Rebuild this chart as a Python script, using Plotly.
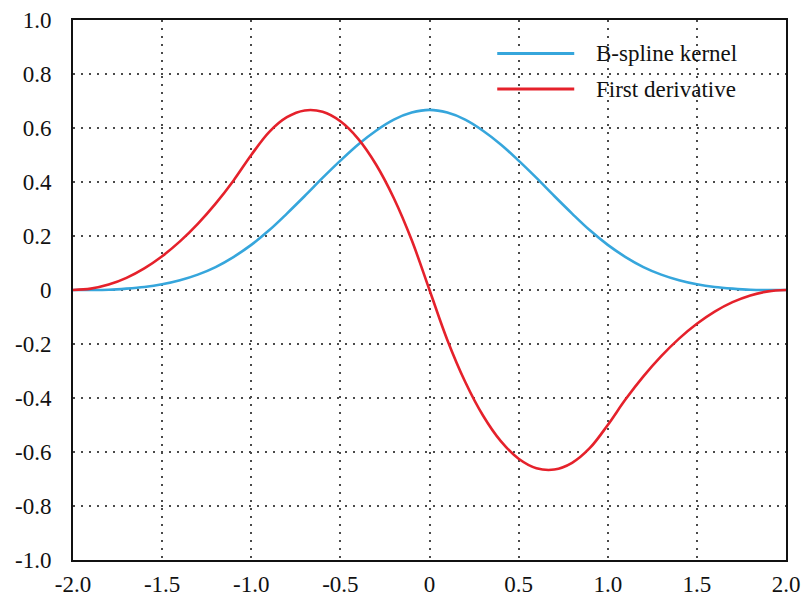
import plotly.graph_objects as go

# sample positions
x_vals = [-2.0, -1.9, -1.8, -1.7, -1.6, -1.5, -1.4, -1.3, -1.2, -1.1, -1.0,
          -0.9, -0.8, -0.7, -0.6, -0.5, -0.4, -0.3, -0.2, -0.1, 0.0,
          0.1, 0.2, 0.3, 0.4, 0.5, 0.6, 0.7, 0.8, 0.9, 1.0,
          1.1, 1.2, 1.3, 1.4, 1.5, 1.6, 1.7, 1.8, 1.9, 2.0]

# B-spline kernel
bspline = [0.000, 0.000, 0.001, 0.005, 0.011, 0.021, 0.036, 0.057, 0.085, 0.122, 0.167,
           0.221, 0.283, 0.348, 0.415, 0.479, 0.539, 0.590, 0.631, 0.657, 0.667,
           0.657, 0.631, 0.590, 0.539, 0.479, 0.415, 0.348, 0.283, 0.221, 0.167,
           0.122, 0.085, 0.057, 0.036, 0.021, 0.011, 0.005, 0.001, 0.000, 0.000]

# First derivative
deriv = [0.000, 0.005, 0.020, 0.045, 0.080, 0.125, 0.180, 0.245, 0.320, 0.405, 0.500,
         0.585, 0.640, 0.665, 0.660, 0.625, 0.560, 0.465, 0.340, 0.185, 0.000,
         -0.185, -0.340, -0.465, -0.560, -0.625, -0.660, -0.665, -0.640, -0.585, -0.500,
         -0.405, -0.320, -0.245, -0.180, -0.125, -0.080, -0.045, -0.020, -0.005, 0.000]

series_names = ["B-spline kernel", "First derivative"]
series_colors = ["#36a6dc", "#e5212b"]

x_ticks = [-2.0, -1.5, -1.0, -0.5, 0.0, 0.5, 1.0, 1.5, 2.0]
x_tick_text = ["-2.0", "-1.5", "-1.0", "-0.5", "0", "0.5", "1.0", "1.5", "2.0"]
y_ticks = [-1.0, -0.8, -0.6, -0.4, -0.2, 0.0, 0.2, 0.4, 0.6, 0.8, 1.0]
y_tick_text = ["-1.0", "-0.8", "-0.6", "-0.4", "-0.2", "0", "0.2", "0.4", "0.6", "0.8", "1.0"]

font_family = "Liberation Serif"

fig = go.Figure()
for ys, name, color in zip([bspline, deriv], series_names, series_colors):
    fig.add_trace(go.Scatter(x=x_vals, y=ys, mode="lines", name=name,
                             line=dict(color=color, width=2.6, shape="spline", smoothing=1.0),
                             showlegend=False))

# manual legend (long line samples)
legend_rows = [0.938, 0.872]
for name, color, yy in zip(series_names, series_colors, legend_rows):
    fig.add_shape(type="line", xref="paper", yref="paper",
                  x0=0.595, x1=0.703, y0=yy, y1=yy,
                  line=dict(color=color, width=3))
    fig.add_annotation(xref="paper", yref="paper", x=0.731, y=yy, text=name,
                       showarrow=False, xanchor="left", yanchor="middle",
                       font=dict(family=font_family, size=23, color="#111"))

axis_common = dict(
    showgrid=True, gridcolor="#4a4a4a", gridwidth=1.6, griddash="2px,6px",
    zeroline=False, showline=True, linecolor="#111111", linewidth=2, mirror=True,
    ticks="", tickfont=dict(family=font_family, size=23, color="#111"),
    automargin=False,
)

fig.update_xaxes(range=[-2.0, 2.0], tickvals=x_ticks, ticktext=x_tick_text,
                 ticklabelstandoff=2, **axis_common)
fig.update_yaxes(range=[-1.0, 1.0], tickvals=y_ticks, ticktext=y_tick_text,
                 ticklabelstandoff=15, **axis_common)

fig.update_layout(
    width=804, height=596,
    margin=dict(l=73, r=18, t=20, b=36),
    paper_bgcolor="white", plot_bgcolor="white",
    font=dict(family=font_family, size=23, color="#111"),
)

fig.write_html("out.html")
